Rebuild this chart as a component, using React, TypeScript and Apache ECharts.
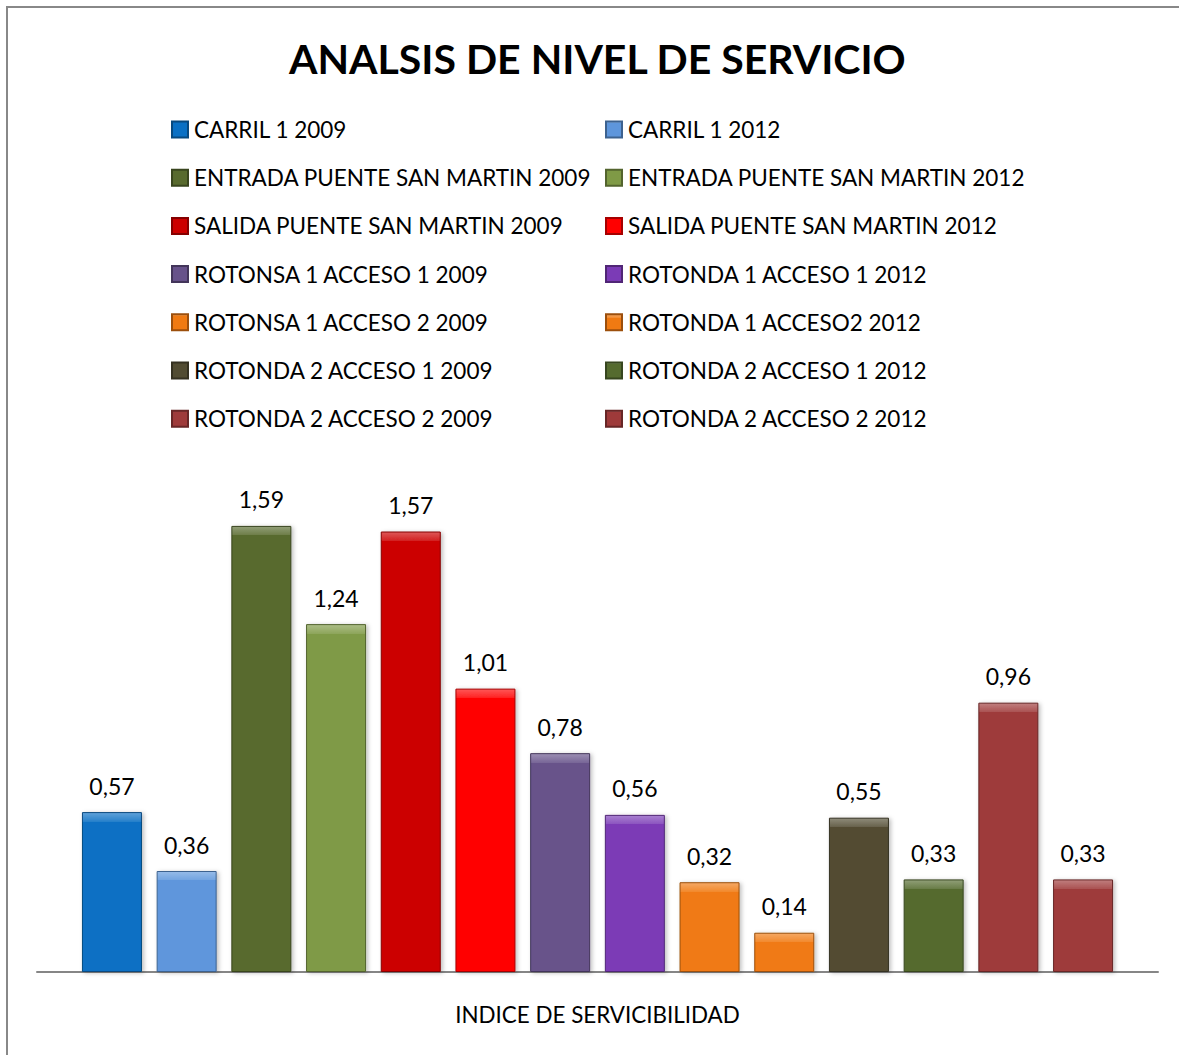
import React, { useEffect, useRef } from "react";
import * as echarts from "echarts";

const category = ["INDICE DE SERVICIBILIDAD"];
const seriesNames = [
  "CARRIL 1 2009",
  "CARRIL 1 2012",
  "ENTRADA PUENTE SAN MARTIN 2009",
  "ENTRADA PUENTE SAN MARTIN 2012",
  "SALIDA PUENTE SAN MARTIN 2009",
  "SALIDA PUENTE SAN MARTIN 2012",
  "ROTONSA 1 ACCESO 1 2009",
  "ROTONDA 1 ACCESO 1 2012",
  "ROTONSA 1 ACCESO 2 2009",
  "ROTONDA 1 ACCESO2 2012",
  "ROTONDA 2 ACCESO 1 2009",
  "ROTONDA 2 ACCESO 1 2012",
  "ROTONDA 2 ACCESO 2 2009",
  "ROTONDA 2 ACCESO 2 2012",
];
const seriesValues = [0.57, 0.36, 1.59, 1.24, 1.57, 1.01, 0.78, 0.56, 0.32, 0.14, 0.55, 0.33, 0.96, 0.33];
const seriesColors = [
  "#0A70C4", "#5E96DC", "#586A2E", "#7F9A46", "#CC0000", "#FF0000", "#67528A",
  "#7B3BB6", "#F07A12", "#F07A12", "#524C32", "#556B2F", "#9E3A3A", "#9E3A3A",
];

const FONT = "Lato";
const Y_MAX = 1.8;
const PLOT_H = 505;

function shade(hex: string, f: number): string {
  const n = parseInt(hex.slice(1), 16);
  let r = (n >> 16) & 255, g = (n >> 8) & 255, b = n & 255;
  if (f >= 0) {
    r = Math.round(r + (255 - r) * f);
    g = Math.round(g + (255 - g) * f);
    b = Math.round(b + (255 - b) * f);
  } else {
    r = Math.round(r * (1 + f));
    g = Math.round(g * (1 + f));
    b = Math.round(b * (1 + f));
  }
  return "rgb(" + r + "," + g + "," + b + ")";
}

export default function App() {
  const ref = useRef<HTMLDivElement>(null);
  useEffect(() => {
    if (!ref.current) return;
    const chart = echarts.init(ref.current, undefined, { renderer: "svg" });
    const series = seriesNames.map((name, i) => {
      const v = seriesValues[i];
      const c = seriesColors[i];
      const hPx = (v / Y_MAX) * PLOT_H;
      const bev = Math.min(0.4, 9 / hPx);
      return {
        name,
        type: "bar",
        barWidth: 60,
        barGap: "24.5%",
        data: [v],
        itemStyle: {
          color: {
            type: "linear", x: 0, y: 0, x2: 0, y2: 1,
            colorStops: [
              { offset: 0, color: shade(c, 0.35) },
              { offset: bev, color: shade(c, 0.12) },
              { offset: bev + 0.0001, color: c },
              { offset: 1, color: c },
            ],
          },
          borderColor: shade(c, -0.35),
          borderWidth: 1,
          shadowColor: "rgba(0,0,0,0.25)",
          shadowBlur: 4,
          shadowOffsetX: 2,
          shadowOffsetY: 1,
        },
        label: {
          show: true,
          position: "top",
          distance: 15,
          fontFamily: FONT,
          fontSize: 23,
          color: "#000",
          formatter: (p: any) => Number(p.value).toFixed(2).replace(".", ","),
        },
      };
    });
    const left = seriesNames.filter((_, i) => i % 2 === 0);
    const right = seriesNames.filter((_, i) => i % 2 === 1);
    const legendBase = {
      orient: "vertical",
      top: 113,
      itemWidth: 16,
      itemHeight: 16,
      itemGap: 25.2,
      icon: "rect",
      textStyle: { fontFamily: FONT, fontSize: 22.5, color: "#000", lineHeight: 21, padding: [0, 0, 0, 1] },
    };
    chart.setOption({
      animation: false,
      backgroundColor: "#fff",
      title: {
        text: "ANALSIS DE NIVEL DE SERVICIO",
        left: 284,
        top: 33,
        textStyle: { fontFamily: FONT, fontWeight: "bold", fontSize: 41, color: "#000" },
      },
      legend: [
        { ...legendBase, left: 166, data: left },
        { ...legendBase, left: 600, data: right },
      ],
      graphic: [
        {
          type: "rect",
          shape: { x: 7, y: 7, width: 1200, height: 1100 },
          style: { fill: "none", stroke: "#888", lineWidth: 2 },
          silent: true,
        },
      ],
      grid: { left: 37, right: 21, top: 972 - PLOT_H, height: PLOT_H },
      xAxis: {
        type: "category",
        data: category,
        axisLine: { lineStyle: { color: "#868686", width: 2 } },
        axisTick: { show: false },
        axisLabel: { fontFamily: FONT, fontSize: 22.4, color: "#000", margin: 31 },
      },
      yAxis: { type: "value", min: 0, max: Y_MAX, show: false, splitLine: { show: false } },
      series,
    });
    return () => chart.dispose();
  }, []);
  return <div ref={ref} style={{ position: "absolute", left: 0, top: 0, width: 1179, height: 1055 }} />;
}
